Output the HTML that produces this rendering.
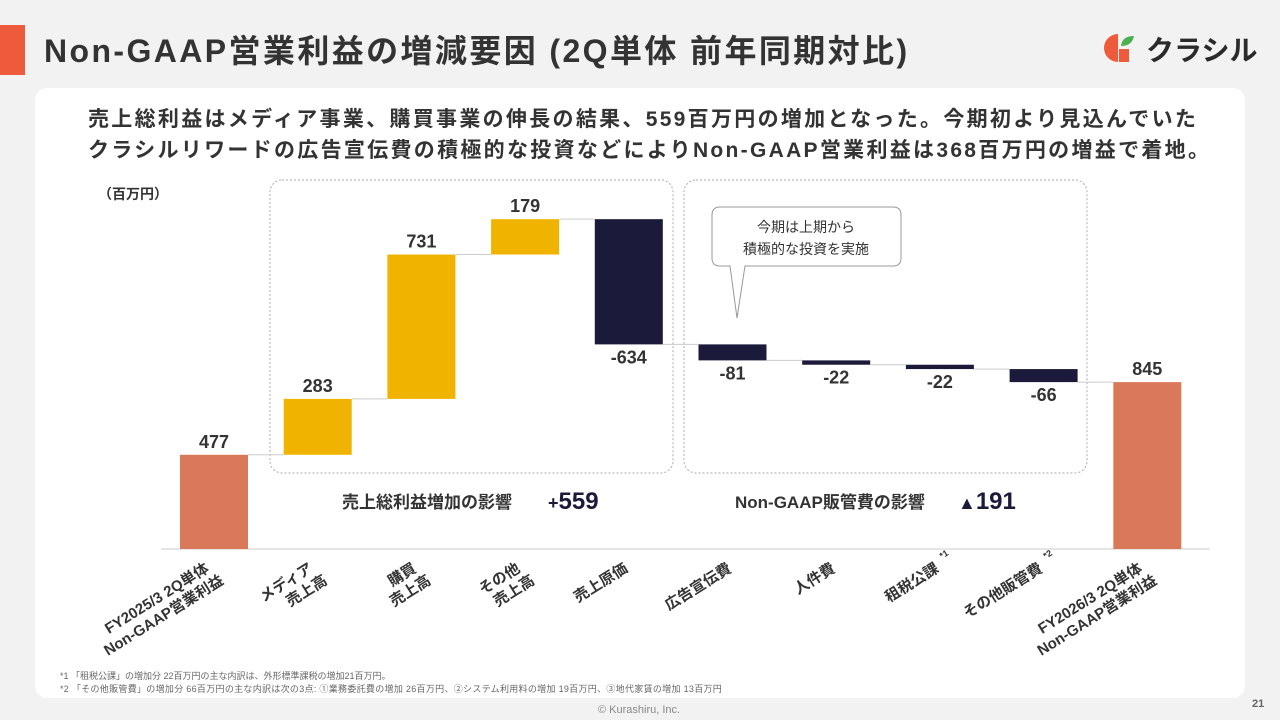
<!DOCTYPE html>
<html><head><meta charset="utf-8">
<style>
body{margin:0;width:1280px;height:720px;background:#f2f2f2;font-family:"Liberation Sans","Noto Sans CJK JP",sans-serif;overflow:hidden;position:relative}
.t{position:absolute;white-space:nowrap}
</style></head><body>
<div style="position:absolute;left:0;top:25px;width:25px;height:50px;background:#ee5a3c"></div>
<div class="t" style="left:44px;top:26px;font-size:32px;font-weight:bold;color:#333;letter-spacing:2.4px">Non-GAAP営業利益の増減要因 (2Q単体 前年同期対比)</div>
<div style="position:absolute;left:1102px;top:32px;width:160px;height:34px">
<svg width="160" height="34"><circle cx="16" cy="16" r="14" fill="#ee5a3c"/><rect x="16" y="0" width="16" height="34" fill="#f2f2f2"/><rect x="17" y="17" width="10" height="13" fill="#ee5a3c"/><path d="M19 14 Q20 4 32 4 Q30 14 19 14Z" fill="#4caf50"/>
<text x="44" y="28" font-size="28" font-weight="bold" fill="#2a2a2a" font-family="Liberation Sans,Noto Sans CJK JP,sans-serif">クラシル</text></svg></div>
<div style="position:absolute;left:35px;top:88px;width:1210px;height:610px;background:#fff;border-radius:12px"></div>
<div class="t" style="left:88px;top:104px;font-size:21px;font-weight:bold;color:#333;line-height:31px;letter-spacing:2.3px">売上総利益はメディア事業、購買事業の伸長の結果、559百万円の増加となった。今期初より見込んでいた<br>クラシルリワードの広告宣伝費の積極的な投資などによりNon-GAAP営業利益は368百万円の増益で着地。</div>
<svg id="chart" width="1280" height="720" style="position:absolute;left:0;top:0" font-family="Liberation Sans,Noto Sans CJK JP,sans-serif">
<text x="98" y="199" font-size="14" font-weight="bold" fill="#333">（百万円）</text>
<rect x="270" y="180" width="403" height="293" rx="12" fill="none" stroke="#aaa" stroke-dasharray="2,2"/>
<rect x="684" y="180" width="403" height="293" rx="12" fill="none" stroke="#aaa" stroke-dasharray="2,2"/>
<text x="342" y="508" font-size="17" font-weight="bold" fill="#333">売上総利益増加の影響</text>
<text x="548" y="509" font-size="24" font-weight="bold" fill="#1b1a3a"><tspan font-size="18">+</tspan>559</text>
<text x="735" y="508" font-size="17" font-weight="bold" fill="#333">Non-GAAP販管費の影響</text>
<text x="958" y="509" font-size="24" font-weight="bold" fill="#1b1a3a"><tspan font-size="18">▲</tspan>191</text>
<g>
<path d="M720 207 H893 Q901 207 901 215 V258 Q901 266 893 266 H745 L737 318 L730 266 H720 Q712 266 712 258 V215 Q712 207 720 207Z" fill="#fff" stroke="#999"/>
<text x="806" y="232" font-size="14" text-anchor="middle" fill="#333">今期は上期から</text>
<text x="806" y="254" font-size="14" text-anchor="middle" fill="#333">積極的な投資を実施</text></g>
<line x1="161" y1="549" x2="1210" y2="549" stroke="#ccc"/>
<g id="bars"></g>
</svg>
<div class="t" style="left:60px;top:669px;font-size:9px;color:#666">*1 「租税公課」の増加分 22百万円の主な内訳は、外形標準課税の増加21百万円。</div>
<div class="t" style="left:60px;top:682px;font-size:9px;color:#666;letter-spacing:0.3px">*2 「その他販管費」の増加分 66百万円の主な内訳は次の3点: ①業務委託費の増加 26百万円、②システム利用料の増加 19百万円、③地代家賃の増加 13百万円</div>
<div class="t" style="left:598px;top:704px;font-size:11px;color:#888">© Kurashiru, Inc.</div>
<div class="t" style="left:1252px;top:698px;font-size:11px;font-weight:bold;color:#666">21</div>
<script>
const categories=[["FY2025/3 2Q単体","Non-GAAP営業利益"],["メディア","売上高"],["購買","売上高"],["その他","売上高"],["売上原価"],["広告宣伝費"],["人件費"],["租税公課"],["その他販管費"],["FY2026/3 2Q単体","Non-GAAP営業利益"]];
const notes=["","","","","","","","*1","*2",""];
const values=[477,283,731,179,-634,-81,-22,-22,-66,845];
const kinds=["total","up","up","up","down","down","down","down","down","total"];
const base=549,scale=0.1975,x0=214,step=103.7,w=68;
const ns="http://www.w3.org/2000/svg";
const g=document.getElementById('bars');
function y(v){return base-v*scale;}
function mk(t,a){const e=document.createElementNS(ns,t);for(const k in a)e.setAttribute(k,a[k]);g.appendChild(e);return e;}
let cum=0;
values.forEach((v,i)=>{
  const cx=x0+i*step;
  let lo,hi,end;
  if(kinds[i]==="total"){lo=0;hi=v;end=v;}
  else{lo=Math.min(cum,cum+v);hi=Math.max(cum,cum+v);end=cum+v;}
  const color=kinds[i]==="total"?"#d9795a":(kinds[i]==="up"?"#f0b400":"#1b1a3a");
  if(i>0){
    const c=mk('line',{x1:cx-step+w/2,x2:cx-w/2,y1:y(cum),y2:y(cum),stroke:'#ccc'});
    
    
  }
  const r=mk('rect',{x:cx-w/2,y:y(hi),width:w,height:Math.max(y(lo)-y(hi),2),fill:color});
  
  
  const ly=v<0?y(lo)+19:y(hi)-7;
  const t=mk('text',{x:cx,y:ly,'font-size':18,'font-weight':'bold','text-anchor':'middle',fill:'#333'});
  t.textContent=String(v);
  
  
  const ax=cx+(categories[i].length>1?-4:0),ay=571;
  const lt=mk('text',{transform:`translate(${ax},${ay}) rotate(-32)`,'font-size':15,'font-weight':'bold','text-anchor':'end',fill:'#333'});
  
  
  categories[i].forEach((s,j)=>{const sp=document.createElementNS(ns,'tspan');sp.setAttribute('x',j===0?0:6);sp.setAttribute('y',j*18);sp.textContent=s;lt.appendChild(sp);});
  if(notes[i]){
    const n=mk('text',{transform:`translate(${ax},${ay}) rotate(-32)`,x:8,y:-9,'font-size':9,fill:'#333','font-weight':'bold'});
    n.textContent=notes[i];
    
    
  }
  cum=end;
});
</script>
</body></html>
